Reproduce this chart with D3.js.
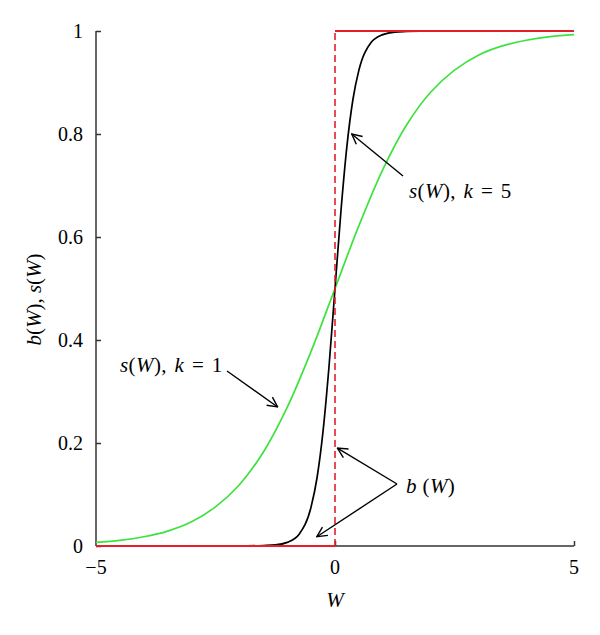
<!DOCTYPE html>
<html>
<head>
<meta charset="utf-8">
<script src="https://cdn.jsdelivr.net/npm/d3@7"></script>
<style>
  body { margin: 0; background: #fff; }
  svg { display: block; font-family: 'Liberation Serif', 'DejaVu Serif', serif; }
</style>
</head>
<body>
<svg id="chart"></svg>
<script>
// values
const wGreen = [-5, -4.5, -4, -3.5, -3, -2.5, -2, -1.5, -1, -0.5, 0, 0.5, 1, 1.5, 2, 2.5, 3, 3.5, 4, 4.5, 5]
const sGreen = [0.007, 0.011, 0.018, 0.029, 0.047, 0.076, 0.119, 0.182, 0.269, 0.378, 0.5, 0.622, 0.731, 0.818, 0.881, 0.924, 0.953, 0.971, 0.982, 0.989, 0.993]

const wBlack = [-5, -2, -1.5, -1.25, -1, -0.75, -0.5, -0.375, -0.25, -0.125, 0, 0.125, 0.25, 0.375, 0.5, 0.75, 1, 1.25, 1.5, 2, 5]
const sBlack = [0, 0, 0.001, 0.002, 0.007, 0.023, 0.076, 0.133, 0.223, 0.349, 0.5, 0.651, 0.777, 0.867, 0.924, 0.977, 0.993, 0.998, 0.999, 1, 1]

const wStep = [-5, 0, 0, 5]
const bStep = [0, 0, 1, 1]

const xTicks = [-5, 0, 5]
const yTicks = [0, 0.2, 0.4, 0.6, 0.8, 1]

const width = 600
const height = 635
const margin = { top: 31, right: 26, bottom: 89, left: 96 }

const svg = d3.select('#chart')
    .attr('width', width)
    .attr('height', height)

const x = d3.scaleLinear().domain([-5, 5]).range([margin.left, width - margin.right])
const y = d3.scaleLinear().domain([0, 1]).range([height - margin.bottom, margin.top])

const axisColor = '#333'

// axes
const xAxis = svg.append('g')
    .attr('transform', `translate(0,${y(0)})`)
    .call(d3.axisTop(x).tickValues([0, 5]).tickSize(5).tickFormat(''))
xAxis.select('.domain').remove()
xAxis.selectAll('line').attr('stroke', axisColor).attr('stroke-width', 1.5)
svg.append('line')
    .attr('x1', x(-5)).attr('x2', x(5))
    .attr('y1', y(0)).attr('y2', y(0))
    .attr('stroke', axisColor).attr('stroke-width', 1.5)

const yAxis = svg.append('g')
    .attr('transform', `translate(${x(-5)},0)`)
    .call(d3.axisRight(y).tickValues(yTicks).tickSize(5).tickFormat(''))
yAxis.select('.domain').remove()
yAxis.selectAll('line').attr('stroke', axisColor).attr('stroke-width', 1.5)
svg.append('line')
    .attr('x1', x(-5)).attr('x2', x(-5))
    .attr('y1', y(0)).attr('y2', y(1))
    .attr('stroke', axisColor).attr('stroke-width', 1.5)

// tick labels
svg.append('g').selectAll('text')
    .data(xTicks)
    .join('text')
    .attr('x', d => x(d))
    .attr('y', y(0) + 28)
    .attr('text-anchor', 'middle')
    .attr('font-size', 20)
    .text(d => d < 0 ? '\u2212' + Math.abs(d) : d)

svg.append('g').selectAll('text')
    .data(yTicks)
    .join('text')
    .attr('x', x(-5) - 13)
    .attr('y', d => y(d) + 7)
    .attr('text-anchor', 'end')
    .attr('font-size', 20)
    .text(d => d)

// axis titles
svg.append('text')
    .attr('x', x(0))
    .attr('y', y(0) + 61)
    .attr('text-anchor', 'middle')
    .attr('font-size', 21)
    .attr('font-style', 'italic')
    .text('W')

const yTitle = svg.append('text')
    .attr('transform', `translate(41,${y(0.5) + 11}) rotate(-90)`)
    .attr('text-anchor', 'middle')
    .attr('font-size', 21)
yTitle.append('tspan').attr('font-style', 'italic').text('b')
yTitle.append('tspan').text('(')
yTitle.append('tspan').attr('font-style', 'italic').text('W')
yTitle.append('tspan').text('),  ')
yTitle.append('tspan').attr('font-style', 'italic').text('s')
yTitle.append('tspan').text('(')
yTitle.append('tspan').attr('font-style', 'italic').text('W')
yTitle.append('tspan').text(')')

// curves
const line = d3.line()
    .x(d => x(d[0]))
    .y(d => y(d[1]))

svg.append('path')
    .datum(d3.zip(wGreen, sGreen))
    .attr('fill', 'none')
    .attr('stroke', '#3ee23e')
    .attr('stroke-width', 1.7)
    .attr('d', line.curve(d3.curveCatmullRom))

svg.append('path')
    .datum(d3.zip(wBlack, sBlack))
    .attr('fill', 'none')
    .attr('stroke', '#000')
    .attr('stroke-width', 1.7)
    .attr('d', line.curve(d3.curveMonotoneX))

// b(W) step: solid horizontals, dashed vertical
const step = d3.zip(wStep, bStep)
const red = '#e3202a'
svg.append('line')
    .attr('x1', x(step[0][0])).attr('y1', y(step[0][1]))
    .attr('x2', x(step[1][0])).attr('y2', y(step[1][1]))
    .attr('stroke', red).attr('stroke-width', 1.8)
svg.append('line')
    .attr('x1', x(step[1][0])).attr('y1', y(step[1][1]))
    .attr('x2', x(step[2][0])).attr('y2', y(step[2][1]))
    .attr('stroke', red).attr('stroke-width', 1.6)
    .attr('stroke-dasharray', '7,4')
svg.append('line')
    .attr('x1', x(step[2][0])).attr('y1', y(step[2][1]))
    .attr('x2', x(step[3][0])).attr('y2', y(step[3][1]))
    .attr('stroke', red).attr('stroke-width', 1.8)

// annotations
svg.append('defs').append('marker')
    .attr('id', 'arrow')
    .attr('viewBox', '0 0 12 12')
    .attr('refX', 11).attr('refY', 6)
    .attr('markerWidth', 12).attr('markerHeight', 12)
    .attr('markerUnits', 'userSpaceOnUse')
    .attr('orient', 'auto')
    .append('path')
    .attr('d', 'M1,1 L11,6 L1,11')
    .attr('fill', 'none')
    .attr('stroke', '#000')
    .attr('stroke-width', 1.4)

const arrows = [
    [[403, 176], [x(0.35), y(0.8)]],
    [[227, 371], [x(-1.2), y(0.27)]],
    [[397, 484], [x(0.05), y(0.19)]],
    [[397, 484], [x(-0.38), y(0.018)]]
]
svg.append('g').selectAll('line')
    .data(arrows)
    .join('line')
    .attr('x1', d => d[0][0]).attr('y1', d => d[0][1])
    .attr('x2', d => d[1][0]).attr('y2', d => d[1][1])
    .attr('stroke', '#000')
    .attr('stroke-width', 1.4)
    .attr('marker-end', 'url(#arrow)')

function label(px, py, parts, ws) {
    const t = svg.append('text')
        .attr('x', px).attr('y', py)
        .attr('font-size', 21)
        .attr('letter-spacing', 0.4)
        .attr('word-spacing', ws)
    parts.forEach(p => {
        t.append('tspan')
            .attr('font-style', p[1] ? 'italic' : 'normal')
            .text(p[0])
    })
}
label(409, 198, [['s', 1], ['(', 0], ['W', 1], ['),  ', 0], ['k', 1], [' = 5', 0]], 2)
label(120, 372, [['s', 1], ['(', 0], ['W', 1], ['),  ', 0], ['k', 1], [' = 1', 0]], 2)
label(406, 493, [['b', 1], [' (', 0], ['W', 1], [')', 0]], 0)
</script>
</body>
</html>
